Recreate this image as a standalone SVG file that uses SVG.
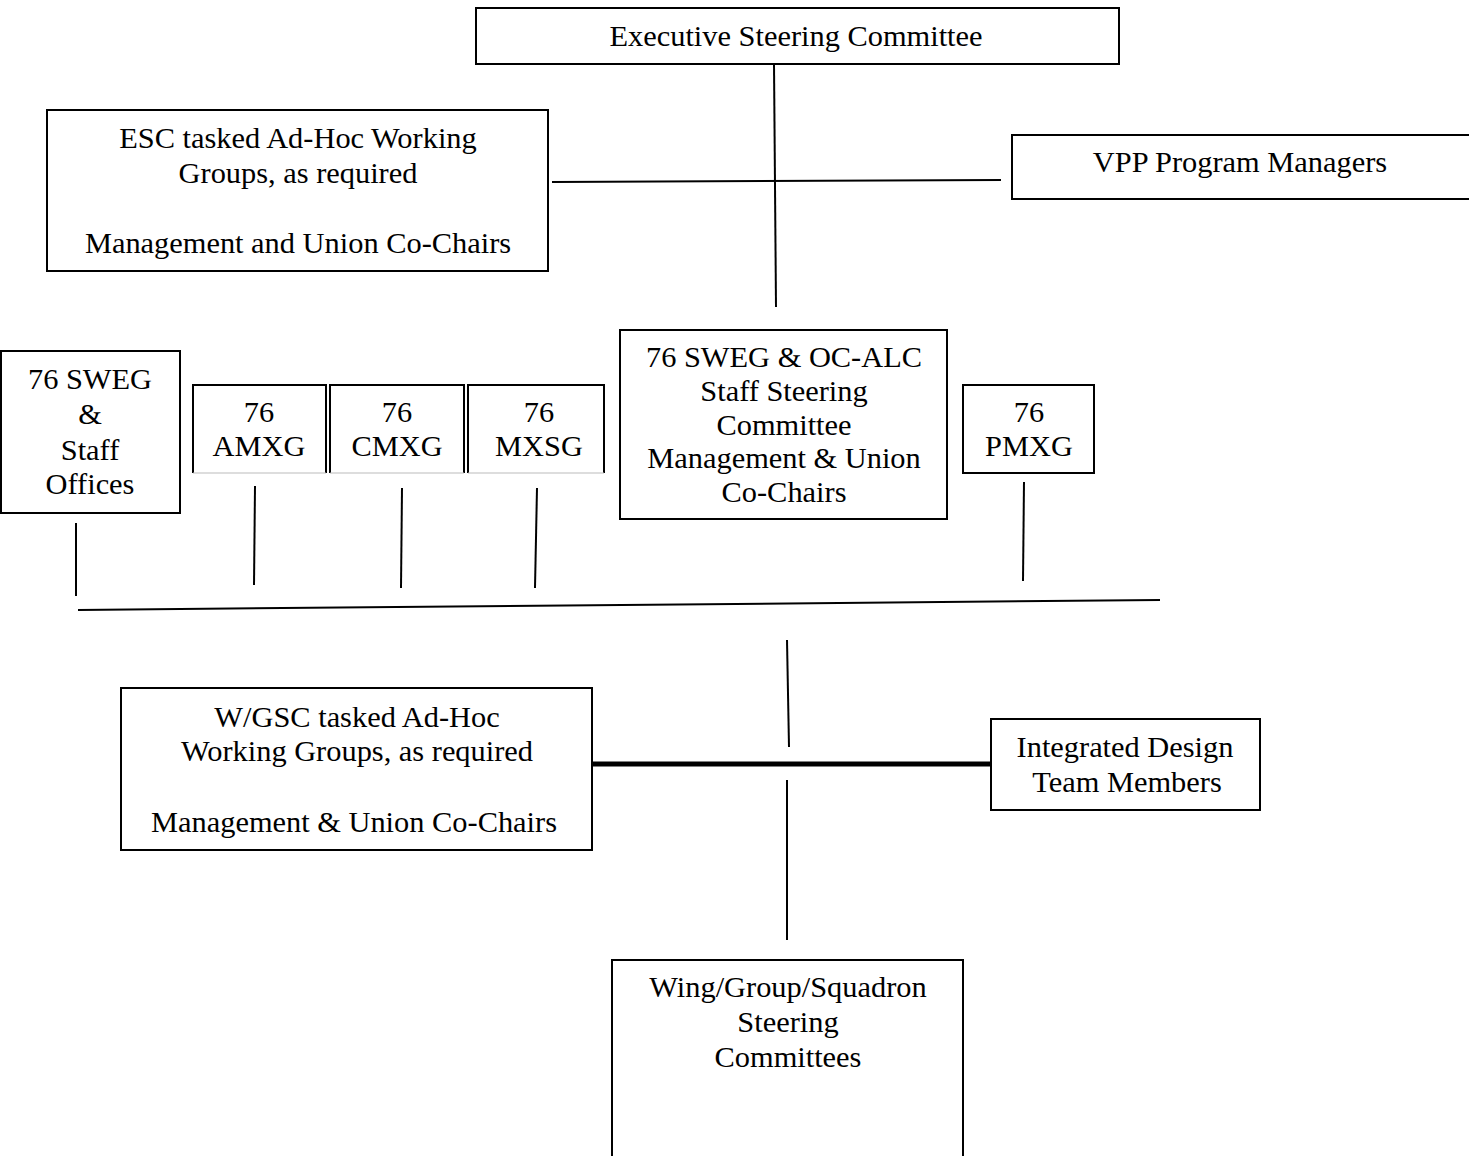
<svg xmlns="http://www.w3.org/2000/svg" width="1469" height="1156" viewBox="0 0 1469 1156">
<style>
.b{fill:#fff;stroke:#000;stroke-width:2}
.t{font-family:"Liberation Serif","Times New Roman",serif;font-size:30.4px;fill:#000;text-anchor:middle}
.c{stroke:#000;stroke-width:2;fill:none}
</style>
<rect width="1469" height="1156" fill="#fff"/>
<g id="connectors">
<line class="c" x1="774" y1="64" x2="776" y2="307"/>
<line class="c" x1="552" y1="182" x2="1001" y2="180"/>
<line class="c" x1="76" y1="523" x2="76" y2="596"/>
<line class="c" x1="255" y1="486" x2="254" y2="585"/>
<line class="c" x1="402" y1="488" x2="401" y2="588"/>
<line class="c" x1="537" y1="488" x2="535" y2="588"/>
<line class="c" x1="1024" y1="482" x2="1023" y2="581"/>
<line class="c" x1="78" y1="610" x2="1160" y2="600"/>
<line class="c" x1="787" y1="640" x2="789" y2="747"/>
<line stroke="#000" stroke-width="5" x1="592" y1="764" x2="991" y2="764"/>
<line class="c" x1="787" y1="780" x2="787" y2="940"/>
</g>
<g id="esc">
<rect class="b" x="476" y="8" width="643" height="56"/>
<text class="t" x="796" y="46">Executive Steering Committee</text>
</g>
<g id="adhoc1">
<rect class="b" x="47" y="110" width="501" height="161"/>
<text class="t" x="298" y="148">ESC tasked Ad-Hoc Working</text>
<text class="t" x="298" y="183">Groups, as required</text>
<text class="t" x="298" y="253">Management and Union Co-Chairs</text>
</g>
<g id="vpp">
<rect class="b" x="1012" y="135" width="460" height="64"/>
<text class="t" x="1240" y="172">VPP Program Managers</text>
</g>
<g id="sweg">
<rect class="b" x="1" y="351" width="179" height="162"/>
<text class="t" x="90" y="389">76 SWEG</text>
<text class="t" x="90" y="424">&amp;</text>
<text class="t" x="90" y="460">Staff</text>
<text class="t" x="90" y="494">Offices</text>
</g>
<g id="amxg">
<path class="c" d="M193 473V385H326V473"/>
<line x1="193" y1="473" x2="326" y2="473" stroke="#bbb" stroke-width="1"/>
<text class="t" x="259" y="422">76</text>
<text class="t" x="259" y="456">AMXG</text>
</g>
<g id="cmxg">
<path class="c" d="M330 473V385H464V473"/>
<line x1="330" y1="473" x2="464" y2="473" stroke="#bbb" stroke-width="1"/>
<text class="t" x="397" y="422">76</text>
<text class="t" x="397" y="456">CMXG</text>
</g>
<g id="mxsg">
<path class="c" d="M468 473V385H604V473"/>
<line x1="468" y1="473" x2="604" y2="473" stroke="#bbb" stroke-width="1"/>
<text class="t" x="539" y="422">76</text>
<text class="t" x="539" y="456">MXSG</text>
</g>
<g id="staffsc">
<rect class="b" x="620" y="330" width="327" height="189"/>
<text class="t" x="784" y="367">76 SWEG &amp; OC-ALC</text>
<text class="t" x="784" y="401">Staff Steering</text>
<text class="t" x="784" y="435">Committee</text>
<text class="t" x="784" y="468">Management &amp; Union</text>
<text class="t" x="784" y="502">Co-Chairs</text>
</g>
<g id="pmxg">
<rect class="b" x="963" y="385" width="131" height="88"/>
<text class="t" x="1029" y="422">76</text>
<text class="t" x="1029" y="456">PMXG</text>
</g>
<g id="adhoc2">
<rect class="b" x="121" y="688" width="471" height="162"/>
<text class="t" x="357" y="727">W/GSC tasked Ad-Hoc</text>
<text class="t" x="357" y="761">Working Groups, as required</text>
<text class="t" x="354" y="832">Management &amp; Union Co-Chairs</text>
</g>
<g id="idt">
<rect class="b" x="991" y="719" width="269" height="91"/>
<text class="t" x="1125" y="757">Integrated Design</text>
<text class="t" x="1127" y="792">Team Members</text>
</g>
<g id="wgs">
<path class="c" d="M612 1156V960H963V1156"/>
<text class="t" x="788" y="997">Wing/Group/Squadron</text>
<text class="t" x="788" y="1032">Steering</text>
<text class="t" x="788" y="1067">Committees</text>
</g>
</svg>
